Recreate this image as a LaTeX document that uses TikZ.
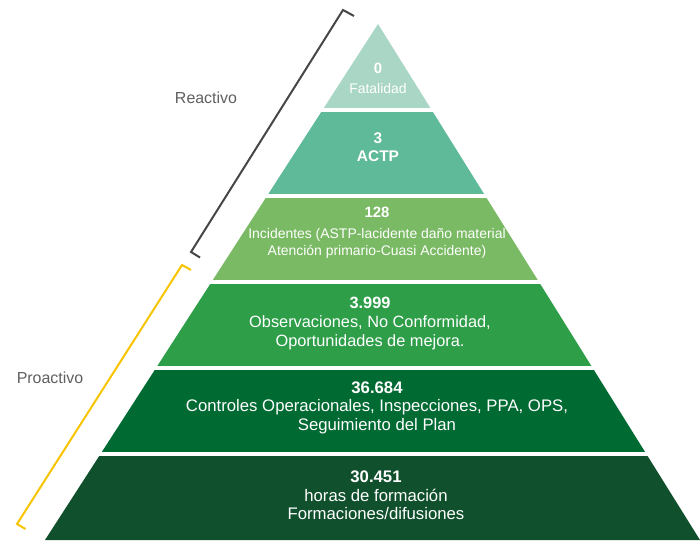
\documentclass[tikz,border=0pt]{standalone}
\usepackage{fontspec}
\setmainfont{Liberation Sans}
\usetikzlibrary{positioning}
\definecolor{nivel1}{RGB}{170,214,198}
\definecolor{nivel2}{RGB}{95,186,153}
\definecolor{nivel3}{RGB}{122,186,100}
\definecolor{nivel4}{RGB}{46,158,73}
\definecolor{nivel5}{RGB}{0,106,51}
\definecolor{nivel6}{RGB}{16,80,44}
\definecolor{graytext}{RGB}{95,95,95}
\definecolor{graybracket}{RGB}{70,70,70}
\definecolor{yellowbracket}{RGB}{248,196,0}
\tikzset{%
  layer text/.style={
    text=white,
    align=center,
    inner sep=0pt,
    font=\fontsize{16}{19}\selectfont
  },
  side label/.style={
    text=graytext,
    inner sep=0pt,
    font=\fontsize{16}{19}\selectfont
  },
  bracket/.style={
    line width=2bp,
    line join=miter
  }
 }

\begin{document}
\begin{tikzpicture}[x=1bp, y=-1bp]

\useasboundingbox (0,0) rectangle (700,541);

\coordinate (apex) at (378,24);
\coordinate (base-l) at (45,540);
\coordinate (base-r) at (700,540);

% pyramid bands
\foreach \c [count=\i] in {nivel1,nivel2,nivel3,nivel4,nivel5,nivel6}
{
  \pgfmathsetmacro\ytop{24+86*(\i-1)+2.3*(\i>1)}
  \pgfmathsetmacro\ybot{24+86*\i-2.3*(\i<6)}
  \begin{scope}
    \clip (0,\ytop) rectangle (700,\ybot);
    \fill [\c] (apex) -- (base-l) -- (base-r) -- cycle;
  \end{scope}
}

\node [layer text, font=\fontsize{14}{20}\selectfont] (nivel-1) at (378,78)
  {{\fontsize{15}{20}\selectfont\textbf{0}}\\Fatalidad};
\node [layer text, font=\fontsize{15.5}{18}\selectfont\bfseries] (nivel-2) at (378,147)
  {3\\ACTP};
\node [layer text, font=\fontsize{14}{17}\selectfont] (nivel-3) at (377,232.5)
  {{\fontsize{15}{17}\selectfont\textbf{128}}\\[4pt]
   Incidentes (ASTP-lacidente daño material\\
   Atención primario-Cuasi Accidente)};
\node [layer text, font=\fontsize{16.4}{19.5}\selectfont] (nivel-4) at (370,323.5)
  {\textbf{3.999}\\Observaciones, No Conformidad,\\Oportunidades de mejora.};
\node [layer text, font=\fontsize{16.8}{18.5}\selectfont] (nivel-5) at (377,407.5)
  {\textbf{36.684}\\Controles Operacionales, Inspecciones, PPA, OPS,\\Seguimiento del Plan};
\node [layer text, font=\fontsize{16.8}{18.5}\selectfont] (nivel-6) at (376,495.5)
  {\textbf{30.451}\\horas de formación\\Formaciones/difusiones};

% brackets
\coordinate (reac-a) at (354,16);
\coordinate (reac-b) at (343,10);
\coordinate (reac-c) at (191,252);
\coordinate (reac-d) at (200,257.5);
\draw [bracket, graybracket] (reac-a) -- (reac-b) -- (reac-c) -- (reac-d);

\coordinate (proa-a) at (191,270);
\coordinate (proa-b) at (182,265);
\coordinate (proa-c) at (17,524);
\coordinate (proa-d) at (25.5,529);
\draw [bracket, yellowbracket] (proa-a) -- (proa-b) -- (proa-c) -- (proa-d);

\node [side label] (reactivo) at (206,98) {Reactivo};
\node [side label] (proactivo) at (50,378) {Proactivo};

\end{tikzpicture}
\end{document}
